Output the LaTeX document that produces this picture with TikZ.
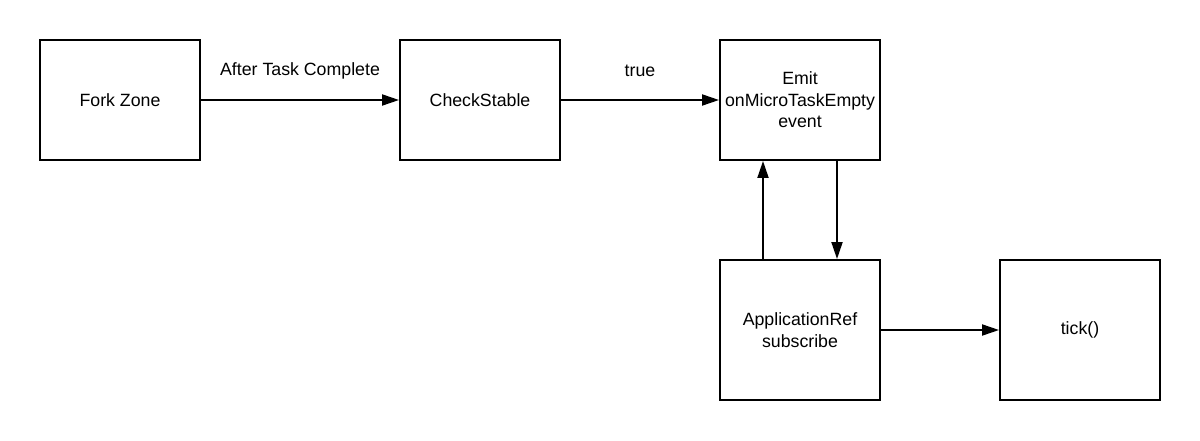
\documentclass[tikz,border=0pt]{standalone}
\usepackage{fontspec}
\setmainfont{Liberation Sans}
\usetikzlibrary{arrows.meta}

\begin{document}
\begin{tikzpicture}[
            every node/.style={font=\fontsize{10.1}{12.2}\selectfont, align=center},
            box/.style={draw, line width=1.1pt, minimum width=3.2cm, minimum height=2.4cm, inner sep=0pt},
            tallbox/.style={box, minimum height=2.8cm},
            line/.style={line width=1.1pt, -{Triangle[length=0.34cm, width=0.22cm]}},
            lbl/.style={midway, yshift=0.58cm, inner sep=0pt},
            ]
        \useasboundingbox (0,0) rectangle (24,8.8);

        \node[box] (fork) at (2.4, 6.8) {Fork Zone};
        \node[box] (check) at (9.6, 6.8) {CheckStable};
        \node[box] (emit) at (16, 6.8) {Emit\\onMicroTaskEmpty\\event};
        \node[tallbox] (appref) at (16, 2.2) {ApplicationRef\\subscribe};
        \node[tallbox] (tick) at (21.6, 2.2) {tick()};

        \draw[line] (fork) -- node[lbl] {After Task Complete} (check);
        \draw[line] (check) -- node[lbl] {true} (emit);
        \draw[line] ([xshift=0.74cm]emit.south) -- ([xshift=0.74cm]appref.north);
        \draw[line] ([xshift=-0.74cm]appref.north) -- ([xshift=-0.74cm]emit.south);
        \draw[line] (appref) -- (tick);
    \end{tikzpicture}
\end{document}
